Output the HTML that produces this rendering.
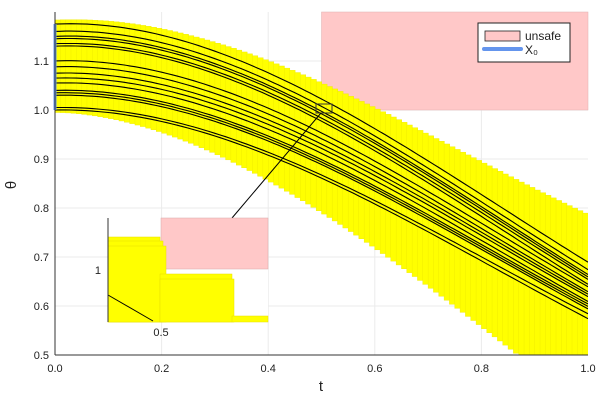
<!DOCTYPE html>
<html><head><meta charset="utf-8"><style>
body{margin:0;background:#fff}
svg text{font-family:"Liberation Sans","DejaVu Sans",sans-serif;fill:#222}
</style></head><body>
<svg id="s" width="600" height="400" viewBox="0 0 600 400" xmlns="http://www.w3.org/2000/svg">
<defs><clipPath id="pc"><rect x="55" y="12" width="533" height="343"/></clipPath></defs>
<g stroke="#ebebeb" stroke-width="1">
<line x1="161.6" y1="12" x2="161.6" y2="355"/><line x1="268.2" y1="12" x2="268.2" y2="355"/>
<line x1="374.8" y1="12" x2="374.8" y2="355"/><line x1="481.4" y1="12" x2="481.4" y2="355"/>
<line x1="55" y1="61" x2="588" y2="61"/><line x1="55" y1="110" x2="588" y2="110"/>
<line x1="55" y1="159" x2="588" y2="159"/><line x1="55" y1="208" x2="588" y2="208"/>
<line x1="55" y1="257" x2="588" y2="257"/><line x1="55" y1="306" x2="588" y2="306"/>
</g>
<rect x="321.5" y="12" width="266.5" height="98" fill="#ffc8c8" stroke="#e0b0b0" stroke-width="0.5"/>
<g id="bandg" clip-path="url(#pc)"></g>
<g id="trajg" clip-path="url(#pc)" fill="none" stroke="#000" stroke-width="1.1"></g>
<line x1="55" y1="24" x2="55" y2="110" stroke="#6495ed" stroke-width="3"/>
<rect x="316" y="104" width="16" height="9" fill="none" stroke="#333" stroke-width="1"/>
<line x1="321" y1="113" x2="232" y2="218" stroke="#000" stroke-width="1"/>
<!-- inset -->
<rect x="108" y="218" width="160" height="104" fill="#fff"/>
<rect x="161" y="218" width="107" height="51" fill="#ffc8c8" stroke="#d8a8a8" stroke-width="0.5"/>
<g fill="#ffff00" stroke="#e8e000" stroke-width="0.5">
<rect x="108" y="237" width="52" height="85"/><rect x="108" y="241" width="55" height="81"/>
<rect x="108" y="246" width="58" height="76"/><rect x="160" y="274" width="72" height="48"/>
<rect x="160" y="279" width="74" height="43"/><rect x="232" y="316" width="36" height="6"/>
</g>
<line x1="108" y1="295" x2="153" y2="321" stroke="#000" stroke-width="1"/>
<line x1="108" y1="218" x2="108" y2="322" stroke="#333" stroke-width="1"/>
<text x="101" y="274" font-size="11" text-anchor="end">1</text>
<text x="161" y="336" font-size="11" text-anchor="middle">0.5</text>
<!-- axes -->
<line x1="55" y1="12" x2="55" y2="355" stroke="#333" stroke-width="1"/>
<line x1="55" y1="355" x2="588" y2="355" stroke="#333" stroke-width="1"/>
<g font-size="11" text-anchor="middle">
<text x="55" y="372">0.0</text><text x="161.6" y="372">0.2</text><text x="268.2" y="372">0.4</text>
<text x="374.8" y="372">0.6</text><text x="481.4" y="372">0.8</text><text x="588" y="372">1.0</text>
</g>
<g font-size="11" text-anchor="end">
<text x="49" y="65">1.1</text><text x="49" y="114">1.0</text><text x="49" y="163">0.9</text>
<text x="49" y="212">0.8</text><text x="49" y="261">0.7</text><text x="49" y="310">0.6</text><text x="49" y="359">0.5</text>
</g>
<text x="321" y="391" font-size="15" text-anchor="middle">t</text>
<text x="16" y="185" font-size="15" text-anchor="middle" transform="rotate(-90 16 185)">θ</text>
<rect x="478" y="23" width="92" height="39" fill="#fff" stroke="#222" stroke-width="1"/>
<rect x="485" y="31" width="35" height="10" fill="#ffc8c8" stroke="#222" stroke-width="0.8"/>
<line x1="484" y1="49" x2="521" y2="49" stroke="#6495ed" stroke-width="4" stroke-linecap="round"/>
<text x="525" y="40" font-size="12">unsafe</text>
<text x="525" y="54" font-size="12">X₀</text>
</svg>
<script>
(function(){
var X=function(t){return 55+533*t;}, Y=function(v){return 110-(v-1)*491;};
function upc(t){return 1.175+0.05*t-0.9*t*t+0.35*t*t*t;}
function loc(t){return 1.0+0.02*t-0.75*t*t+0.3*t*t*t;}
var ns="http://www.w3.org/2000/svg",band=document.getElementById('bandg'),tr=document.getElementById('trajg');
for(var i=0;i<100;i++){var t=i/100,t2=(i+1)/100;
 var u=Math.max(upc(t),upc(t2))+0.008+0.1*t2*t2, l=Math.min(loc(t),loc(t2))-0.005-0.17*Math.pow(t2,1.5);
 var r=document.createElementNS(ns,'rect');r.setAttribute('x',X(t));r.setAttribute('width',533/100+0.3);
 r.setAttribute('y',Y(u));r.setAttribute('height',Y(l)-Y(u));r.setAttribute('fill','#ffff00');
 r.setAttribute('stroke','#eeea00');r.setAttribute('stroke-width','0.4');band.appendChild(r);}
var starts=[1.175,1.16,1.15,1.145,1.135,1.13,1.10,1.088,1.075,1.065,1.055,1.04,1.035,1.03,1.005,1.0];
var ends=[0.69,0.675,0.665,0.66,0.655,0.645,0.64,0.63,0.625,0.62,0.61,0.605,0.6,0.595,0.585,0.575];
for(var k=0;k<starts.length;k++){var s=starts[k],e=ends[k];var d="";
 var f=(s-1.0)/0.175;var fe=f*upc(1)+(1-f)*loc(1);
 for(var j=0;j<=100;j++){var tt=j/100;
  var v=f*upc(tt)+(1-f)*loc(tt)+(e-fe)*tt*tt;
  d+=(j?"L":"M")+X(tt).toFixed(1)+","+Y(v).toFixed(1);}
 var p=document.createElementNS(ns,'path');p.setAttribute('d',d);tr.appendChild(p);}
})();
</script>
</body></html>
